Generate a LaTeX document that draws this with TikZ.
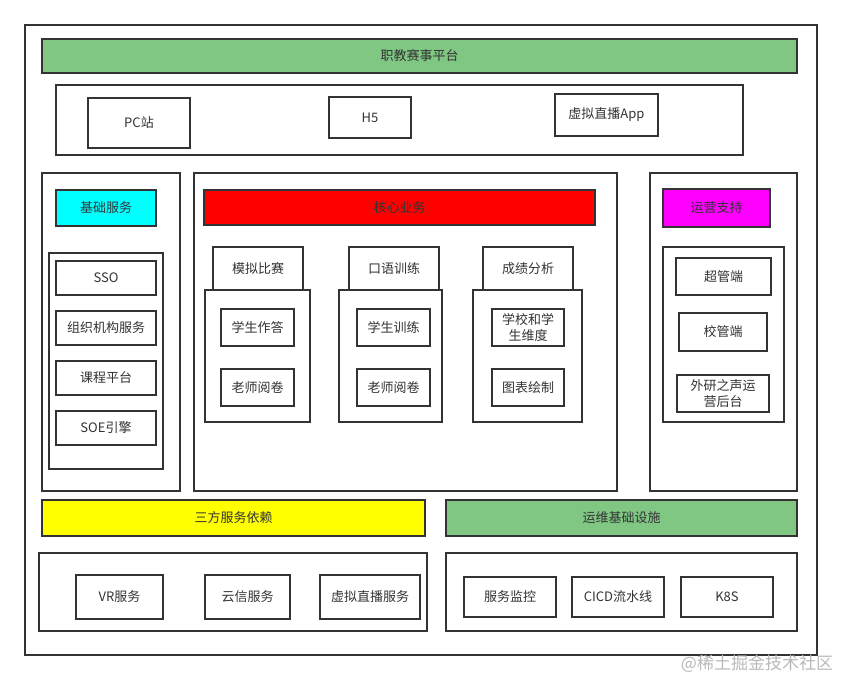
\documentclass[tikz,border=0pt]{standalone}
\usepackage{fontspec}
\setmainfont{Noto Sans CJK SC}
\definecolor{edge}{HTML}{333333}
\definecolor{ink}{HTML}{333333}
\definecolor{leafgreen}{HTML}{7FC783}
\definecolor{skycyan}{HTML}{00FFFF}
\definecolor{hotred}{HTML}{FF0000}
\definecolor{hotpink}{HTML}{FF00FF}
\definecolor{lemon}{HTML}{FFFF00}
\begin{document}
\begin{tikzpicture}[x=1pt, y=-1pt, line width=1.5pt,
    every node/.style={font=\fontsize{13}{16}\selectfont, text=ink},
    card/.style={draw=edge, fill=white, inner sep=0pt, align=center},
    bar/.style={draw=edge, inner sep=0pt}]
    \useasboundingbox (0,0) rectangle (842,681);
    % frames
    \draw[edge] (25,25) rectangle (817,655);
    \draw[edge] (56,85) rectangle (743,155);
    \draw[edge] (42,173) rectangle (180,491);
    \draw[edge] (194,173) rectangle (617,491);
    \draw[edge] (650,173) rectangle (797,491);
    \draw[edge] (39,553) rectangle (427,631);
    \draw[edge] (446,553) rectangle (797,631);
    % platform and clients
    \node[bar, fill=leafgreen, minimum width=755, minimum height=34] (platform) at (419.5,56) {职教赛事平台};
    \node[card, minimum width=102, minimum height=50] (pc) at (139,123) {PC站};
    \node[card, minimum width=82, minimum height=41] (h5) at (370,117.5) {H5};
    \node[card, minimum width=103, minimum height=42] (app) at (606.5,115) {虚拟直播App};
    % basic services
    \node[bar, fill=skycyan, minimum width=100, minimum height=36] (basic) at (106,208) {基础服务};
    \draw[edge] (49,253) rectangle (163,469);
    \node[card, minimum width=100, minimum height=34] (sso) at (106,278) {SSO};
    \node[card, minimum width=100, minimum height=34] (org) at (106,328) {组织机构服务};
    \node[card, minimum width=100, minimum height=34] (course) at (106,378) {课程平台};
    \node[card, minimum width=100, minimum height=34] (soe) at (106,428) {SOE引擎};
    % core business
    \node[bar, fill=hotred, minimum width=391, minimum height=35] (core) at (399.5,207.5) {核心业务};
    \draw[edge] (205,290) rectangle (310,422);
    \draw[edge] (339,290) rectangle (442,422);
    \draw[edge] (473,290) rectangle (582,422);
    \node[card, minimum width=90, minimum height=43] (match) at (258,268.5) {模拟比赛};
    \node[card, minimum width=73, minimum height=37] (answer) at (257.5,327.5) {学生作答};
    \node[card, minimum width=73, minimum height=37] (grade) at (257.5,387.5) {老师阅卷};
    \node[card, minimum width=90, minimum height=43] (oral) at (394,268.5) {口语训练};
    \node[card, minimum width=73, minimum height=37] (train) at (393.5,327.5) {学生训练};
    \node[card, minimum width=73, minimum height=37] (grade2) at (393.5,387.5) {老师阅卷};
    \node[card, minimum width=90, minimum height=43] (score) at (528,268.5) {成绩分析};
    \node[card, minimum width=72, minimum height=37] (dim) at (528,327.5) {学校和学\\生维度};
    \node[card, minimum width=72, minimum height=37] (chart) at (528,387.5) {图表绘制};
    % operation support
    \node[bar, fill=hotpink, minimum width=107, minimum height=38] (ops) at (716.5,208) {运营支持};
    \draw[edge] (663,247) rectangle (784,422);
    \node[card, minimum width=95, minimum height=37] (super) at (723.5,276.5) {超管端};
    \node[card, minimum width=88, minimum height=38] (school) at (723,332) {校管端};
    \node[card, minimum width=92, minimum height=37] (backend) at (723,393.5) {外研之声运\\营后台};
    % third party and infrastructure
    \node[bar, fill=lemon, minimum width=383, minimum height=36] (third) at (233.5,518) {三方服务依赖};
    \node[card, minimum width=87, minimum height=44] (vr) at (119.5,597) {VR服务};
    \node[card, minimum width=85, minimum height=44] (yunxin) at (247.5,597) {云信服务};
    \node[card, minimum width=100, minimum height=44] (live) at (370,597) {虚拟直播服务};
    \node[bar, fill=leafgreen, minimum width=351, minimum height=36] (infra) at (621.5,518) {运维基础设施};
    \node[card, minimum width=92, minimum height=40] (monitor) at (510,597) {服务监控};
    \node[card, minimum width=92, minimum height=40] (cicd) at (618,597) {CICD流水线};
    \node[card, minimum width=92, minimum height=40] (k8s) at (727,597) {K8S};
    \node[text=gray!55, font=\fontsize{17}{20}\selectfont] (mark) at (757,664) {@稀土掘金技术社区};
\end{tikzpicture}
\end{document}
